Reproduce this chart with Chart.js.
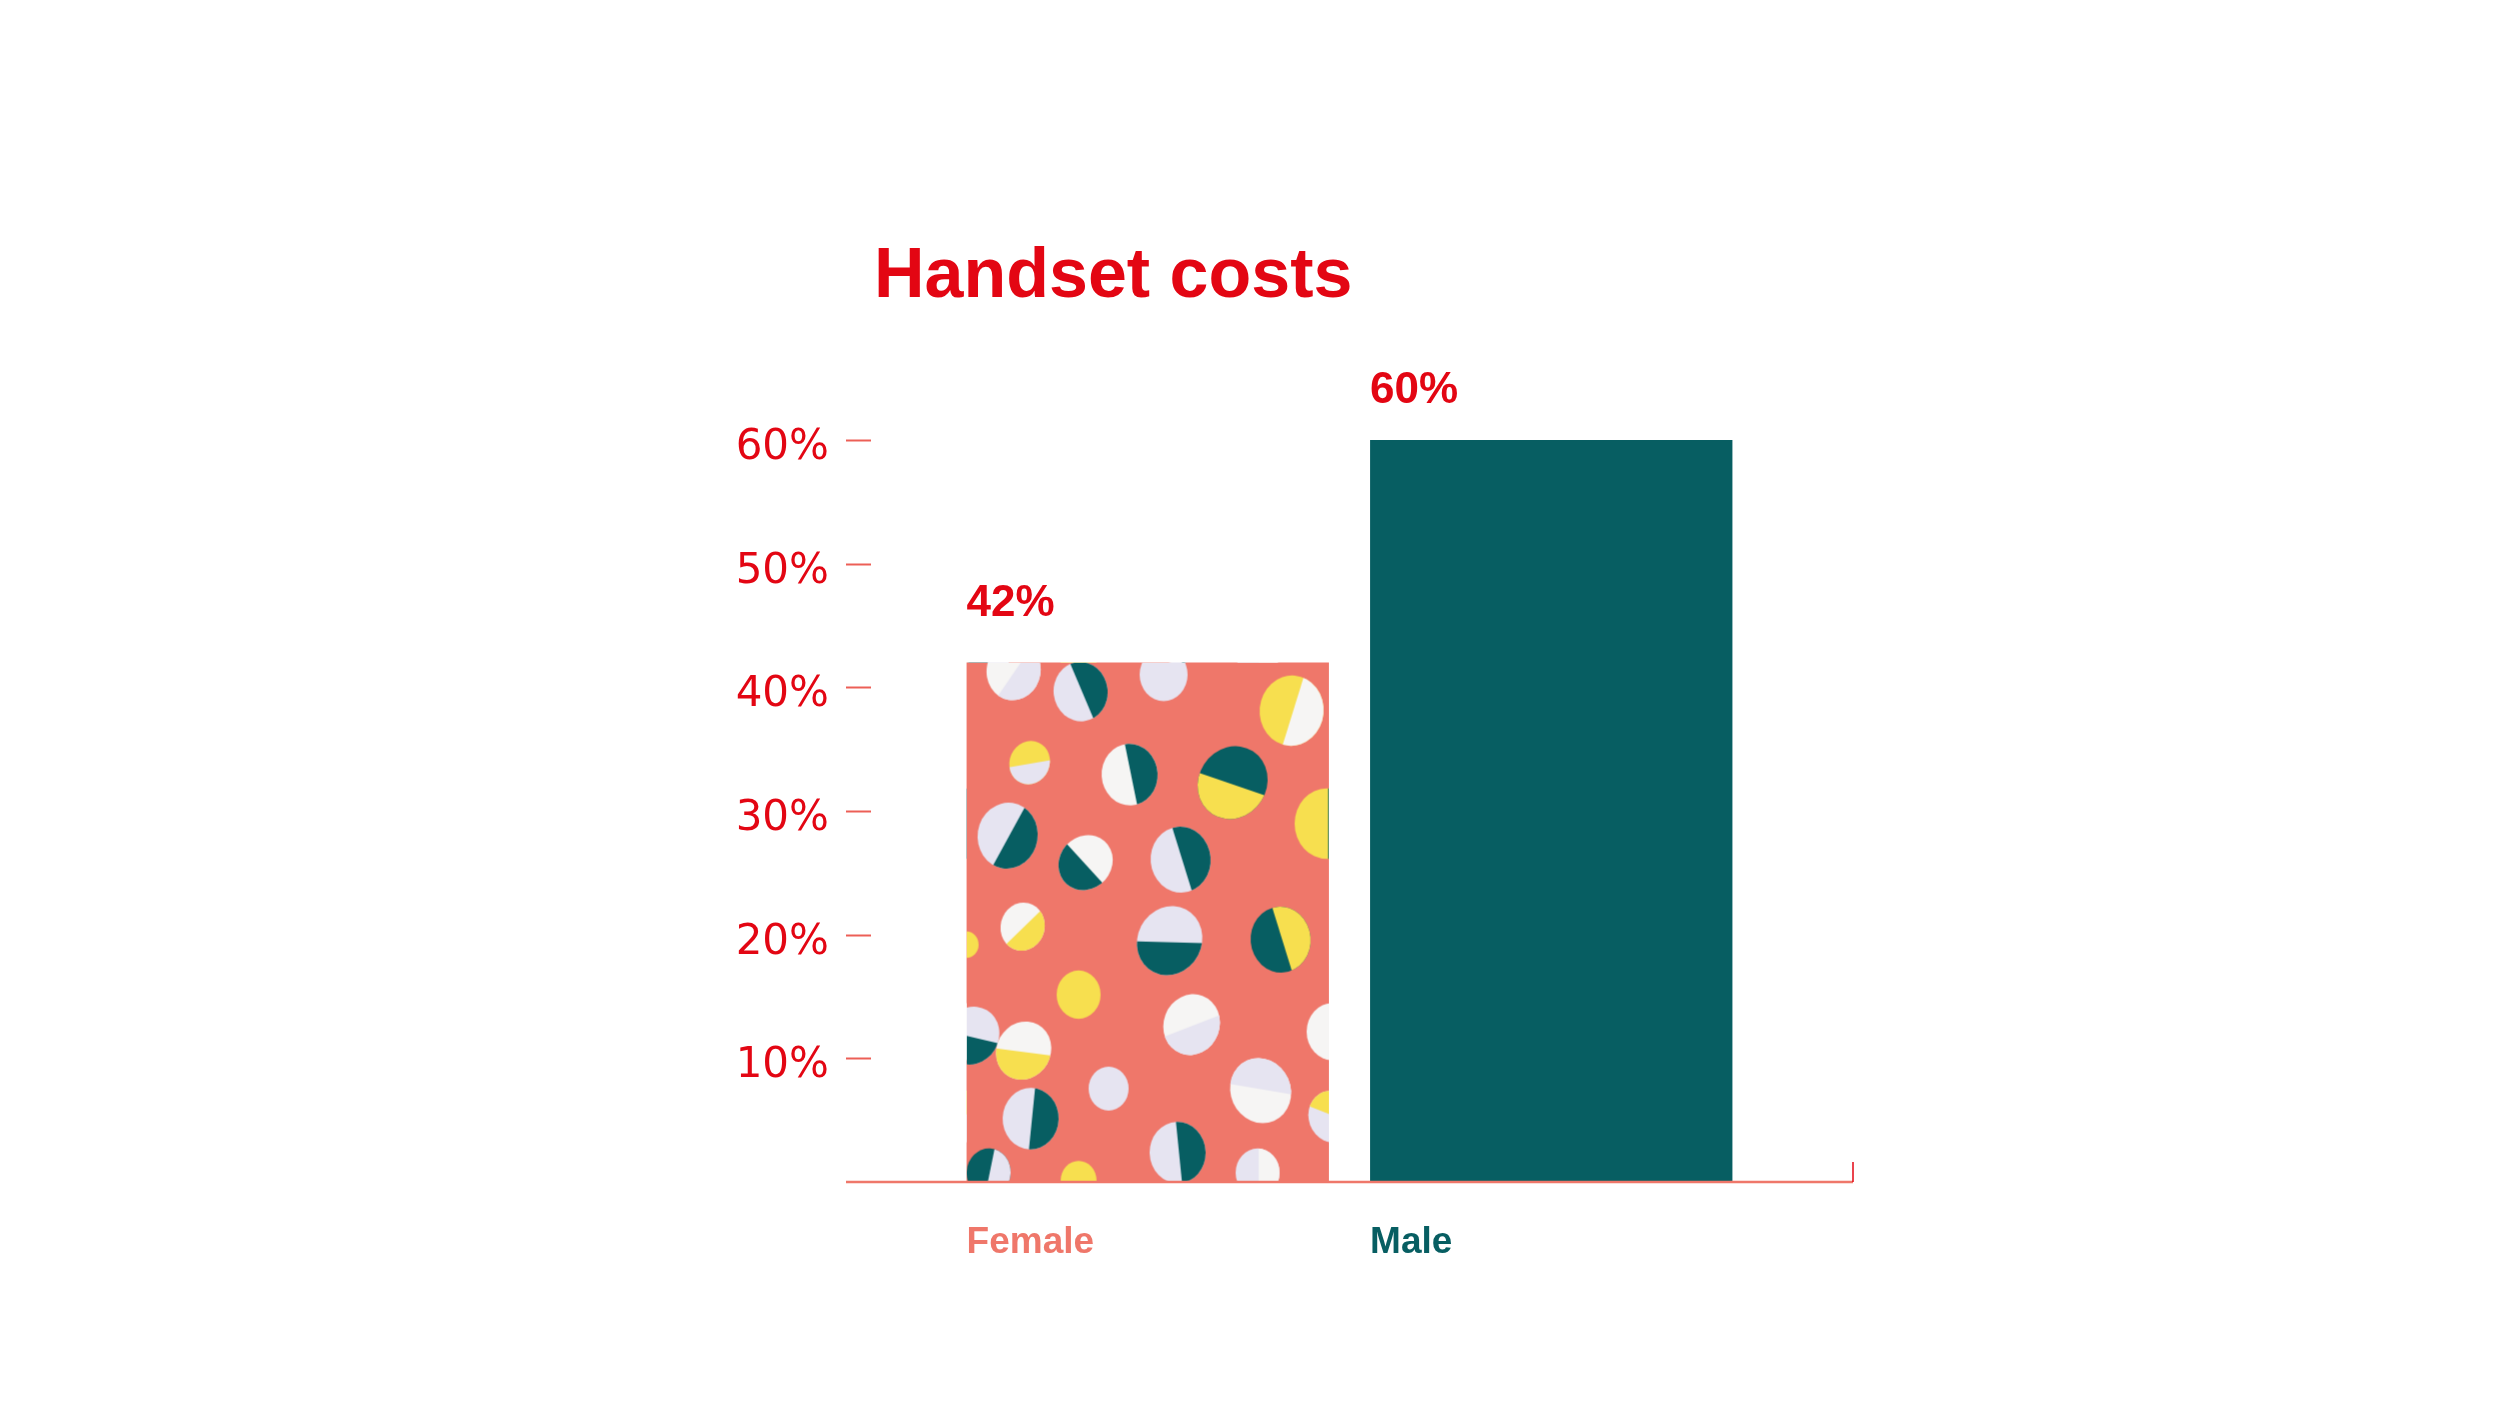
<!DOCTYPE html>
<html>
<head>
<meta charset="utf-8">
<title>Handset costs</title>
<script src="https://cdn.jsdelivr.net/npm/chart.js@4.4.1/dist/chart.umd.min.js"></script>
<style>
  html, body { margin: 0; padding: 0; background: #ffffff; }
  #wrap { position: relative; width: 2500px; height: 1406px; }
</style>
</head>
<body>
<div id="wrap"><canvas id="chart" width="2500" height="1406"></canvas></div>
<script>
// ═══════════ DATA ═══════════
const TITLE = 'Handset costs';
const categories = ['Female', 'Male'];
const shares = [42, 60];
const yTicks = [0, 10, 20, 30, 40, 50, 60];

// ═══════════ STYLE ═══════════
const RED = '#E30613';
const SALMON = '#EF776A';
const TEAL = '#075E62';
const YELLOW = '#F7DF4F';
const WHITE = '#F6F5F4';
const LAVENDER = '#E6E4F1';
const labelColors = [SALMON, TEAL];
const valueGap = [47, 37];

// textura del bar Female (solo decoración)
const blobs = [
  [47, 8, 27, WHITE, LAVENDER, 0.6], [114, 29, 27, LAVENDER, TEAL, -0.4],
  [197, 12, 24, LAVENDER, null, 0], [325, 48, 32, YELLOW, WHITE, 0.3],
  [63, 100, 20, YELLOW, LAVENDER, 1.4], [163, 112, 28, WHITE, TEAL, -0.2],
  [266, 120, 34, TEAL, YELLOW, 1.9], [360, 161, 32, YELLOW, TEAL, 0],
  [41, 173, 30, LAVENDER, TEAL, 0.5], [119, 200, 26, WHITE, TEAL, 2.4],
  [214, 197, 30, LAVENDER, TEAL, -0.3], [56, 264, 22, WHITE, YELLOW, 0.8],
  [0, 282, 12, YELLOW, null, 0], [203, 278, 32, LAVENDER, TEAL, 1.6],
  [314, 277, 30, TEAL, YELLOW, -0.3], [112, 332, 22, YELLOW, null, 0],
  [225, 362, 28, WHITE, LAVENDER, 1.2], [366, 369, 26, WHITE, null, 0],
  [5, 373, 27, LAVENDER, TEAL, 1.8], [57, 388, 27, WHITE, YELLOW, 1.7],
  [142, 426, 20, LAVENDER, null, 0], [294, 428, 30, WHITE, LAVENDER, -1.4],
  [366, 454, 24, LAVENDER, YELLOW, -1.2], [64, 456, 28, LAVENDER, TEAL, 0.1],
  [211, 490, 28, LAVENDER, TEAL, -0.1], [22, 510, 22, TEAL, LAVENDER, 0.2],
  [112, 518, 18, YELLOW, null, 0], [291, 510, 22, LAVENDER, WHITE, 0]
];

function makeTile(w, h) {
  const c = document.createElement('canvas');
  c.width = w; c.height = h;
  const g = c.getContext('2d');
  g.fillStyle = SALMON;
  g.fillRect(0, 0, w, h);
  blobs.forEach(([x, y, r, base, accent, ang]) => {
    g.save();
    g.beginPath();
    g.ellipse(x, y, r, r * 1.1, ang * 0.3, 0, Math.PI * 2);
    g.fillStyle = base;
    g.fill();
    if (accent) {
      g.clip();
      g.translate(x, y);
      g.rotate(ang);
      g.fillStyle = accent;
      g.fillRect(r * 0.05, -r * 1.5, r * 2, r * 3);
    }
    g.restore();
  });
  return c;
}
const tile = makeTile(364, 520);

// ═══════════ PLUGIN ═══════════
const decor = {
  id: 'decor',
  beforeDatasetsDraw(chart) {
    const el = chart.getDatasetMeta(0).data[0];
    if (!el) return;
    const pat = chart.ctx.createPattern(tile, 'repeat');
    pat.setTransform(new DOMMatrix([1, 0, 0, 1, el.x - el.width / 2, el.y]));
    el.options = Object.assign({}, el.options, { backgroundColor: pat });
  },
  afterDraw(chart) {
    const { ctx, chartArea: a, scales: { y } } = chart;
    ctx.save();
    // título
    ctx.fillStyle = RED;
    ctx.font = 'bold 70px "Liberation Sans", Arial, sans-serif';
    ctx.textAlign = 'left';
    ctx.textBaseline = 'alphabetic';
    ctx.fillText(TITLE, a.left - 72, 297);

    // marcas y etiquetas del eje Y
    ctx.strokeStyle = '#EC5F56';
    ctx.lineWidth = 2;
    ctx.font = '42px "DejaVu Sans", sans-serif';
    ctx.textAlign = 'right';
    y.ticks.filter(t => t.value > 0).forEach(t => {
      const py = Math.round(y.getPixelForValue(t.value)) + 0.5;
      ctx.beginPath();
      ctx.moveTo(a.left - 100, py);
      ctx.lineTo(a.left - 75, py);
      ctx.stroke();
      ctx.fillText(t.value + '%', a.left - 117, py + 18);
    });

    // línea base
    const by = y.getPixelForValue(0);
    ctx.strokeStyle = SALMON;
    ctx.lineWidth = 2.5;
    ctx.beginPath();
    ctx.moveTo(a.left - 100, by);
    ctx.lineTo(a.right + 100, by);
    ctx.stroke();
    ctx.strokeStyle = RED;
    ctx.lineWidth = 1.5;
    ctx.beginPath();
    ctx.moveTo(a.right + 100, by);
    ctx.lineTo(a.right + 100, by - 20);
    ctx.stroke();

    // valores y categorías
    ctx.textAlign = 'left';
    const meta = chart.getDatasetMeta(0);
    meta.data.forEach((el, i) => {
      const left = el.x - el.width / 2;
      ctx.fillStyle = RED;
      ctx.font = 'bold 44px "Liberation Sans", Arial, sans-serif';
      ctx.fillText(shares[i] + '%', left, el.y - valueGap[i]);
      ctx.fillStyle = labelColors[i];
      ctx.font = 'bold 37px "Liberation Sans", Arial, sans-serif';
      ctx.fillText(categories[i], left, by + 71);
    });
    ctx.restore();
  }
};

// ═══════════ CHART ═══════════
new Chart(document.getElementById('chart'), {
  type: 'bar',
  data: {
    labels: categories,
    datasets: [{
      label: 'Handset costs',
      data: shares,
      backgroundColor: [SALMON, TEAL],
      borderWidth: 0,
      barPercentage: 0.898,
      categoryPercentage: 1
    }]
  },
  options: {
    responsive: false,
    animation: false,
    layout: { padding: { top: 440, bottom: 224, left: 736, right: 747 } },
    plugins: { legend: { display: false }, title: { display: false }, tooltip: { enabled: false } },
    scales: {
      x: { display: false, offset: true },
      y: {
        min: 0,
        max: 60,
        afterFit: s => { s.width = 210; },
        afterBuildTicks: s => { s.ticks = yTicks.map(v => ({ value: v })); },
        grid: { display: false, drawTicks: false },
        border: { display: false },
        ticks: { display: false }
      }
    }
  },
  plugins: [decor]
});
</script>
</body>
</html>
